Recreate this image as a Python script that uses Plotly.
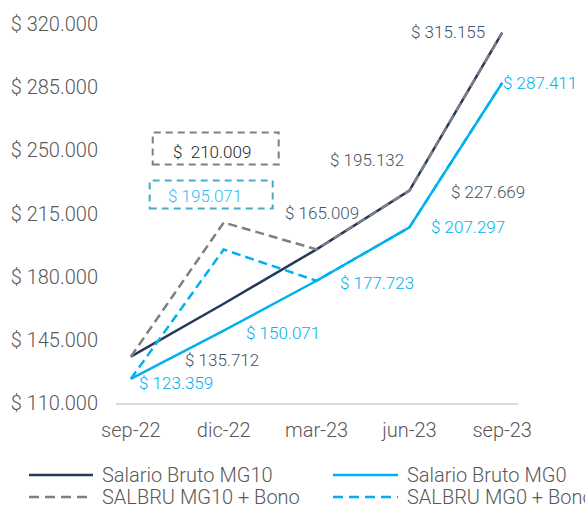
import plotly.graph_objects as go

categories = ["sep-22", "dic-22", "mar-23", "jun-23", "sep-23"]
mg10 = [135712, 165009, 195132, 227669, 315155]
mg0 = [123359, 150071, 177723, 207297, 287411]
mg10_bono = [135712, 210009, 195132, 227669, 315155]
mg0_bono = [123359, 195071, 177723, 207297, 287411]
y_ticks = [110000, 145000, 180000, 215000, 250000, 285000, 320000]
series_names = ["Salario Bruto MG10", "Salario Bruto MG0", "SALBRU MG10 + Bono", "SALBRU MG0 + Bono"]

NAVY = "#243a5a"
BLUE = "#00b0f0"
GRAY = "#7f7f7f"
LBL_NAVY = "#44546a"
FONT = "Roboto"


def money(v):
    return "$ " + f"{v:,}".replace(",", ".")


fig = go.Figure()
dash = "9px,5px"
fig.add_trace(go.Scatter(x=categories, y=mg10, mode="lines", name=series_names[0],
                         line=dict(color=NAVY, width=2.5), showlegend=False))
fig.add_trace(go.Scatter(x=categories, y=mg0, mode="lines", name=series_names[1],
                         line=dict(color=BLUE, width=2.5), showlegend=False))
fig.add_trace(go.Scatter(x=categories, y=mg10_bono, mode="lines", name=series_names[2],
                         line=dict(color=GRAY, width=2.5, dash=dash), showlegend=False))
fig.add_trace(go.Scatter(x=categories, y=mg0_bono, mode="lines", name=series_names[3],
                         line=dict(color=BLUE, width=2.5, dash=dash), showlegend=False))

# data labels (offsets in px relative to their point)
navy_off = [(91, -3), (98, 91), (50, 89), (79, -1), (-54, 1)]
blue_off = [(45, -4), (59, -2), (60, -2), (59, 0), (38, 0)]
LBL_SIZE = 17
annotations = []
for i, (c, v) in enumerate(zip(categories, mg10)):
    dx, dy = navy_off[i]
    annotations.append(dict(x=c, y=v, text=money(v), showarrow=False, xshift=dx, yshift=dy,
                            font=dict(family=FONT, size=LBL_SIZE, color=LBL_NAVY, weight=300)))
for i, (c, v) in enumerate(zip(categories, mg0)):
    dx, dy = blue_off[i]
    annotations.append(dict(x=c, y=v, text=money(v), showarrow=False, xshift=dx, yshift=dy,
                            font=dict(family=FONT, size=LBL_SIZE, color=BLUE, weight=300)))

# boxed labels for the bono peaks
annotations.append(dict(x=categories[1], y=mg10_bono[1], text=money(mg10_bono[1]).replace("$ ", "$  "),
                        showarrow=False, xshift=-12, yshift=71,
                        font=dict(family=FONT, size=LBL_SIZE, color="#262626", weight=300)))
annotations.append(dict(x=categories[1], y=mg0_bono[1], text=money(mg0_bono[1]),
                        showarrow=False, xshift=-19, yshift=53,
                        font=dict(family=FONT, size=LBL_SIZE, color="#33bdf2", weight=300)))
shapes = [
    dict(type="rect", xref="x", yref="y", xsizemode="pixel", ysizemode="pixel",
         xanchor=categories[1], yanchor=mg10_bono[1], x0=-71, x1=55, y0=58, y1=90,
         line=dict(color=GRAY, width=2, dash="7px,5px")),
    dict(type="rect", xref="x", yref="y", xsizemode="pixel", ysizemode="pixel",
         xanchor=categories[1], yanchor=mg0_bono[1], x0=-74, x1=49, y0=41, y1=69,
         line=dict(color="#4bacc6", width=2, dash="7px,5px")),
]

# custom legend
leg_items = [
    (series_names[0], NAVY, "solid", -0.2164, -0.0572, -0.0398, -0.1900),
    (series_names[1], BLUE, "solid", 0.5398, 0.7015, 0.7189, -0.1900),
    (series_names[2], GRAY, "10px,6px", -0.2164, -0.0572, -0.0398, -0.2480),
    (series_names[3], BLUE, "10px,6px", 0.5398, 0.7015, 0.7189, -0.2480),
]
for name, col, ds, lx0, lx1, tx, ly in leg_items:
    shapes.append(dict(type="line", xref="paper", yref="paper", x0=lx0, x1=lx1, y0=ly, y1=ly,
                       line=dict(color=col, width=2.5, dash=ds)))
    annotations.append(dict(x=tx, y=ly, xref="paper", yref="paper", text=name, showarrow=False,
                            xanchor="left", yanchor="middle",
                            font=dict(family=FONT, size=20, color="#595959", weight=300)))

fig.update_layout(
    width=585, height=508,
    margin=dict(l=116, r=67, t=24, b=105),
    plot_bgcolor="white", paper_bgcolor="white",
    annotations=annotations, shapes=shapes,
    showlegend=False,
    xaxis=dict(type="category", range=[-0.16, 4.17], showgrid=False, zeroline=False,
               showline=True, linecolor="#d9d9d9", linewidth=1.5, ticks="",
               tickfont=dict(family=FONT, size=20, color="#595959", weight=300),
               ticklabelstandoff=8),
    yaxis=dict(range=[110000, 320000], showgrid=False, zeroline=False, showline=False,
               tickvals=y_ticks, ticktext=[money(v) for v in y_ticks], ticks="",
               tickfont=dict(family=FONT, size=20, color="#595959", weight=300),
               ticklabelstandoff=17),
)

fig.write_html("out.html", config={"displayModeBar": False},
               post_script="document.body.style.margin='0';document.body.style.overflow='hidden';")
